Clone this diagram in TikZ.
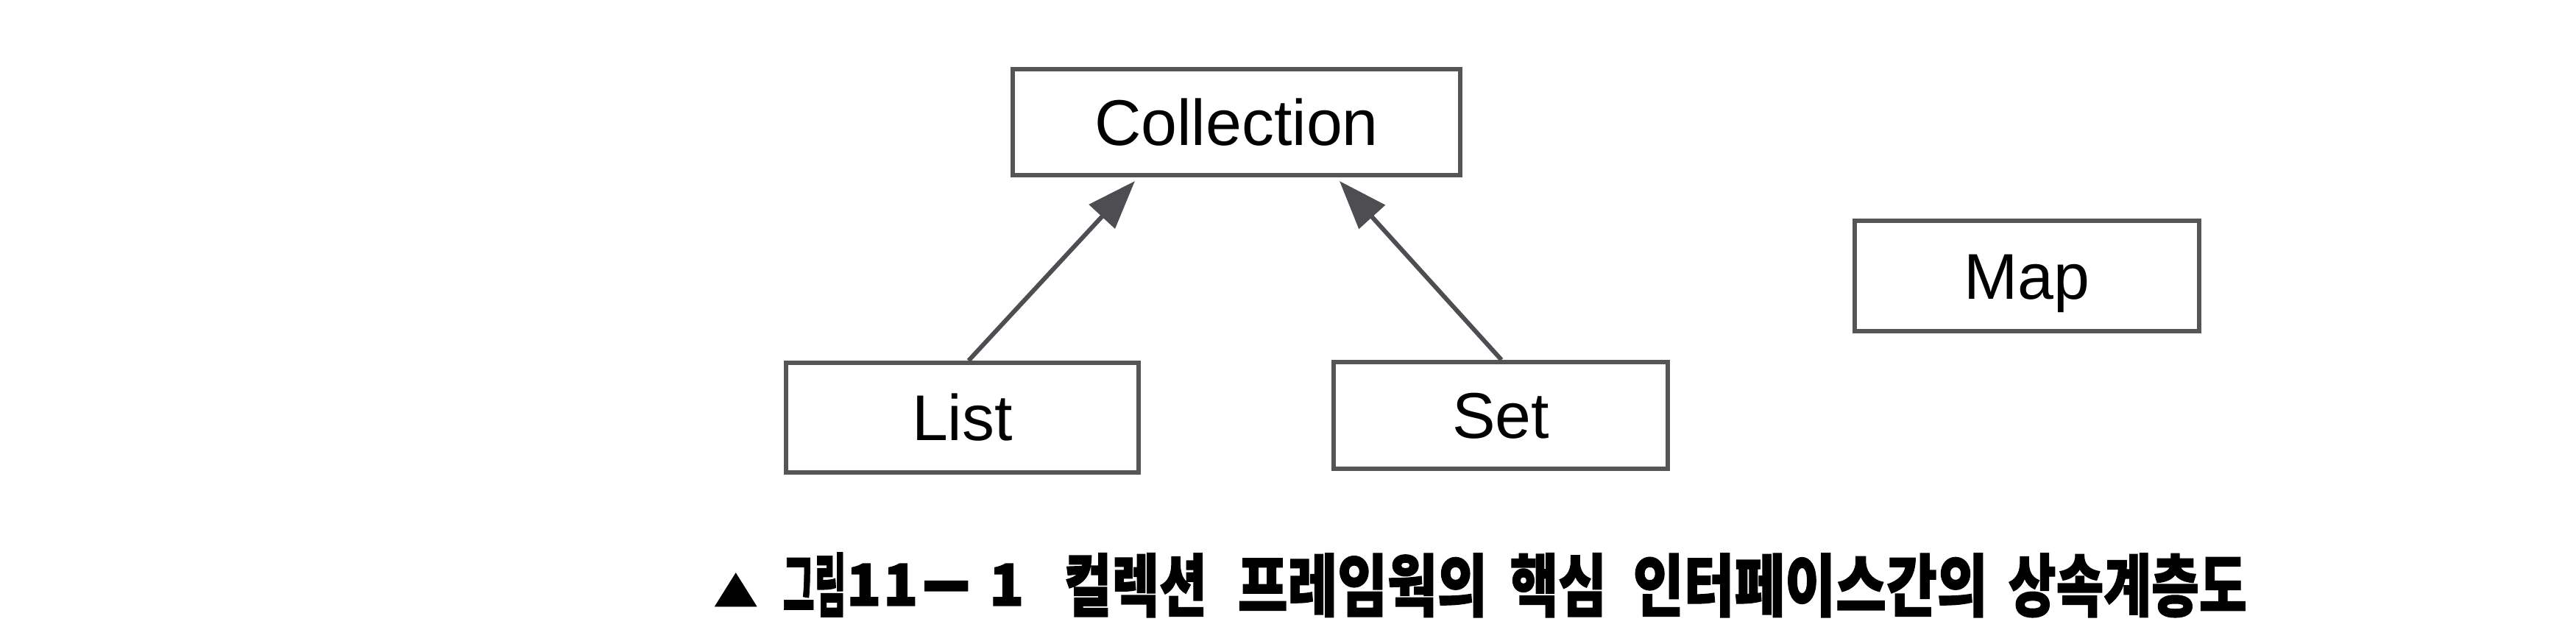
\documentclass[tikz,border=0pt]{standalone}
\usepackage{fontspec}
\usepackage{graphicx}
\usetikzlibrary{arrows.meta}
\newfontfamily\boxfont{Liberation Sans}
\newfontfamily\capfont{Noto Sans CJK KR}[BoldFeatures={FakeBold=1.5}]
\newcommand\kw[2]{\resizebox*{#1}{24.8pt}{#2}}
\newcommand\kd[1]{\makebox[#1][c]{\raisebox{2pt}{\resizebox*{!}{16.2pt}{1}}}}
\definecolor{boxgray}{RGB}{85,85,85}
\definecolor{arrgray}{RGB}{78,78,82}
\tikzset{
  umlbox/.style={draw=boxgray, line width=0.06cm, fill=white, inner sep=0pt,
    font=\boxfont\fontsize{25pt}{30pt}\selectfont, text height=17.9pt, text depth=0pt},
  inh/.style={draw=arrgray, line width=0.06cm,
    -{Triangle[length=0.66cm,width=0.47cm,fill=arrgray]}},
}
\begin{document}
\begin{tikzpicture}
\useasboundingbox[fill=white] (0,0) rectangle (35,-8.52);
\node[umlbox, minimum width=6.08cm, minimum height=1.44cm] (coll) at (16.80,-1.66) {Collection};
\node[umlbox, minimum width=4.79cm, minimum height=1.49cm] (list) at (13.075,-5.675) {List};
\node[umlbox, minimum width=4.54cm, minimum height=1.45cm] (set) at (20.39,-5.645) {Set};
\node[umlbox, minimum width=4.68cm, minimum height=1.50cm] (map) at (27.54,-3.75) {Map};
\draw[inh] ([xshift=0.085cm]list.north) -- ([xshift=-1.38cm,yshift=-0.05cm]coll.south);
\draw[inh] ([xshift=0.01cm]set.north) -- ([xshift=1.40cm,yshift=-0.05cm]coll.south);
\node[anchor=base west, inner sep=0pt, font=\capfont\bfseries\fontsize{22pt}{26pt}\selectfont] (cap) at (9.69,-8.30)
  {\raisebox{1.5pt}{\resizebox*{17.07pt}{13pt}{▲}}\hspace{9.67pt}\kw{24.47pt}{그림}\kd{13.66pt}\kd{14.80pt}\makebox[20.49pt][c]{\resizebox{19.9pt}{1.5\height}{–}}\kd{26.18pt}\hspace{9.1pt}\kw{55.2pt}{컬렉션}\hspace{11.95pt}\kw{96.46pt}{프레임웍의}\hspace{8.82pt}\kw{37.27pt}{핵심}\hspace{10.24pt}\kw{137.14pt}{인터페이스간의}\hspace{7.97pt}\kw{92.19pt}{상속계층도}};
\end{tikzpicture}
\end{document}
